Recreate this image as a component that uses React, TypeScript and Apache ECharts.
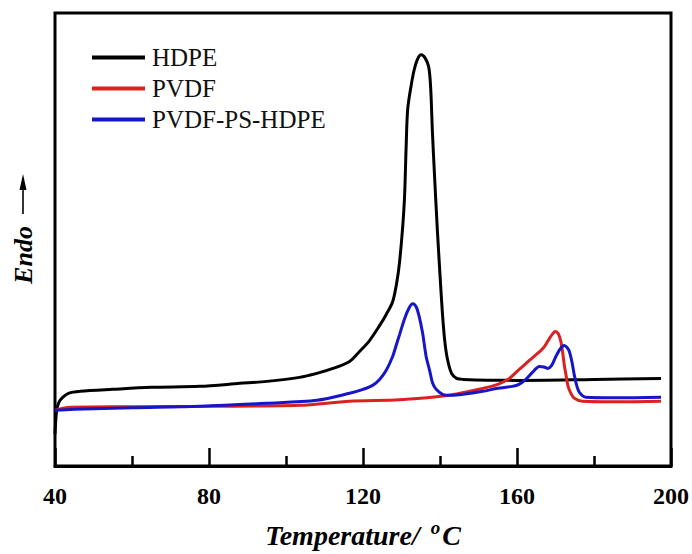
import React, { useEffect, useRef } from "react";
import * as echarts from "echarts";

// Temperature (°C) and heat flow (arbitrary units, endo up)
const hdpeT = [40, 40.4, 41, 42, 43.5, 46.5, 55, 65, 77.6, 88, 95, 103.5, 108, 112.2, 116.5, 119.1, 121.7, 124.3, 126, 127.7, 128.8, 129.5, 130.3, 130.8, 131.2, 131.6, 132.5, 133.3, 134.2, 135.1, 136.1, 137.0, 137.4, 137.7, 138.0, 138.6, 139.3, 140.0, 140.6, 141.2, 141.9, 143, 144.3, 146, 160, 180, 197.4];
const hdpeH = [32, 55, 64, 69, 73, 75, 77, 79, 80, 83, 85, 89, 93, 98, 105, 115, 126, 141, 152, 165, 185, 205, 240, 271, 320, 358, 382, 398, 409, 413, 410, 402, 390, 370, 338, 290, 238, 192, 155, 127, 108, 93, 88, 87, 86, 87, 88];

const pvdfT = [40, 44, 60, 80, 103.5, 116.5, 129.5, 142.4, 151.1, 155, 158, 160, 161.5, 163.2, 164.7, 166.2, 167.3, 168.4, 169.3, 169.9, 170.7, 171.4, 171.9, 172.3, 172.8, 173.2, 174, 174.9, 177, 185, 197.4];
const pvdfH = [56, 59, 59.5, 60, 61, 65, 66.5, 71, 78, 82, 88, 95, 100, 106, 111, 116, 121, 128, 133, 135, 133, 125, 113, 101, 90, 81, 73, 68, 65, 64.5, 65];

const blendT = [40, 45, 60, 77.6, 95, 108, 116.5, 120, 122.5, 124.3, 126, 127.7, 128.6, 129.5, 130.8, 132, 132.9, 133.8, 134.6, 135.5, 136.4, 137.3, 138.1, 139, 140.7, 143, 146, 151.1, 155, 158.8, 160.5, 162.3, 164, 165.8, 167, 168, 169, 170.1, 171.3, 172.3, 173, 173.6, 174.3, 174.9, 175.5, 176.2, 177.9, 185, 197.4];
const blendH = [56, 57, 58.5, 60, 63, 66, 73, 77, 81, 87, 96, 110, 121, 132, 148, 159, 163, 160, 150, 133, 110, 96, 83, 77, 72, 71, 72, 75, 78, 80, 82, 87, 94, 100, 99.5, 98, 101, 110, 118, 121, 119, 115, 104, 91, 81, 74, 69, 68.5, 69];

const seriesNames = ["HDPE", "PVDF", "PVDF-PS-HDPE"];
const seriesColors = ["#000000", "#dd2020", "#1616c8"];
const xTicks = [40, 80, 120, 160, 200];

const zip = (a: number[], b: number[]) => a.map((v, i) => [v, b[i]]);

export default function App() {
  const ref = useRef<HTMLDivElement>(null);
  useEffect(() => {
    if (!ref.current) return;
    const chart = echarts.init(ref.current, null, { renderer: "svg" });
    const serif = "'Liberation Serif', 'Times New Roman', serif";
    const datasets = [zip(hdpeT, hdpeH), zip(pvdfT, pvdfH), zip(blendT, blendH)];
    chart.setOption({
      animation: false,
      backgroundColor: "#ffffff",
      grid: {
        left: 55,
        right: 20,
        top: 13,
        bottom: 86,
        show: true,
        borderColor: "#000",
        borderWidth: 3,
      },
      legend: {
        orient: "vertical",
        left: 87,
        top: 40,
        itemWidth: 53,
        itemHeight: 4,
        itemGap: 6,
        icon: "rect",
        data: seriesNames,
        textStyle: {
          fontFamily: serif,
          fontSize: 25,
          color: "#111",
          padding: [0, 0, 0, 2],
        },
      },
      xAxis: {
        type: "value",
        min: xTicks[0],
        max: xTicks[xTicks.length - 1],
        interval: 40,
        name: "Temperature/ {sup|o}C",
        nameLocation: "middle",
        nameGap: 52,
        nameTextStyle: {
          fontFamily: serif,
          fontSize: 28,
          fontStyle: "italic",
          fontWeight: "bold",
          color: "#000",
          rich: {
            sup: {
              fontFamily: serif,
              fontSize: 19,
              fontStyle: "italic",
              fontWeight: "bold",
              color: "#000",
              verticalAlign: "bottom",
              padding: [0, 2, 15, 4],
            },
          },
        },
        axisLine: { show: true, lineStyle: { color: "#000", width: 3 } },
        axisTick: { show: true, inside: true, length: 18, lineStyle: { color: "#000", width: 2.5 } },
        minorTick: { show: true, splitNumber: 2, length: 10, lineStyle: { color: "#000", width: 2.5 } },
        axisLabel: {
          margin: 18,
          fontFamily: serif,
          fontSize: 24,
          fontWeight: "bold",
          color: "#000",
        },
        splitLine: { show: false },
      },
      yAxis: {
        type: "value",
        min: 0,
        max: 455,
        axisLine: { show: false },
        axisTick: { show: false },
        axisLabel: { show: false },
        splitLine: { show: false },
      },
      graphic: [
        {
          type: "text",
          x: 23,
          y: 255,
          rotation: Math.PI / 2,
          style: {
            text: "Endo",
            fontFamily: serif,
            fontSize: 26,
            fontStyle: "italic",
            fontWeight: "bold",
            fill: "#000",
            align: "center",
            verticalAlign: "middle",
          },
        },
        {
          type: "line",
          shape: { x1: 23, y1: 214, x2: 23, y2: 186 },
          style: { stroke: "#000", lineWidth: 1.6 },
        },
        {
          type: "polygon",
          shape: { points: [[23, 174], [19.5, 190], [26.5, 190]] },
          style: { fill: "#000" },
        },
      ],
      series: seriesNames.map((name, i) => ({
        name,
        type: "line",
        data: datasets[i],
        showSymbol: false,
        symbol: "none",
        smooth: 0.3,
        color: seriesColors[i],
        lineStyle: { color: seriesColors[i], width: 3 },
        z: 2 + i,
      })),
    });
    return () => chart.dispose();
  }, []);
  return (
    <div
      ref={ref}
      style={{ position: "fixed", left: 0, top: 0, width: 692, height: 554, background: "#fff" }}
    />
  );
}
